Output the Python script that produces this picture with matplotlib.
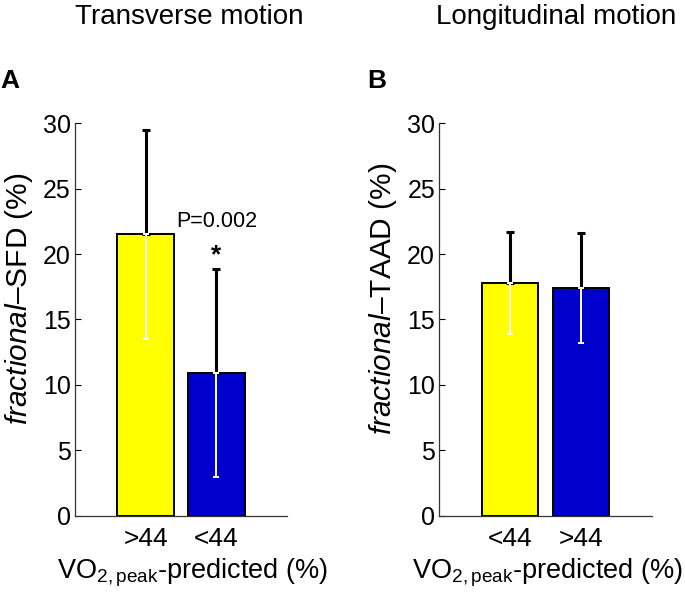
import numpy as np
import matplotlib.pyplot as plt

plt.rcParams['font.family'] = ['Liberation Sans', 'DejaVu Sans']
plt.rcParams['mathtext.fontset'] = 'custom'
plt.rcParams['mathtext.rm'] = 'Liberation Sans'
plt.rcParams['mathtext.it'] = 'Liberation Sans:italic'

# Panel A: transverse motion (fractional-SFD)
groups_a = [">44", "<44"]
mean_a = [21.5, 10.9]
sd_a = [8.0, 7.95]

# Panel B: longitudinal motion (fractional-TAAD)
groups_b = ["<44", ">44"]
mean_b = [17.8, 17.4]
sd_b = [3.9, 4.2]

bar_colors = ["#ffff00", "#0000cc"]

fig = plt.figure(figsize=(6.85, 6.02), dpi=100)
axA = fig.add_axes([0.1095, 0.1434, 0.3095, 0.6518])
axB = fig.add_axes([0.6413, 0.1434, 0.3100, 0.6518])


def draw_panel(ax, groups, means, sds, ylab, xlab_x):
    x = np.arange(1, len(groups) + 1)
    ax.bar(x, means, width=0.8, color=bar_colors, edgecolor="black", linewidth=1.4, zorder=2)
    # black upper half of the error bar, white lower half inside the bar
    ax.errorbar(x, means, yerr=[np.zeros(len(sds)), sds], fmt="none", ecolor="black",
                elinewidth=2.2, capsize=3, capthick=2.2, zorder=3)
    ax.errorbar(x, means, yerr=[sds, np.zeros(len(sds))], fmt="none", ecolor="white",
                elinewidth=1.4, capsize=2.5, capthick=1.4, zorder=3)
    ax.set_xlim(0, 3)
    ax.set_ylim(0, 30)
    ax.set_yticks([0, 5, 10, 15, 20, 25, 30])
    ax.set_xticks(x)
    ax.set_xticklabels(groups)
    ax.spines["top"].set_visible(False)
    ax.spines["right"].set_visible(False)
    for s in ("left", "bottom"):
        ax.spines[s].set_color("#333333")
        ax.spines[s].set_linewidth(0.9)
    ax.tick_params(axis="y", direction="in", length=4, labelsize=18, pad=3)
    ax.tick_params(axis="x", length=0, labelsize=19, pad=8)
    ax.set_ylabel(ylab, fontsize=21.5)
    ax.yaxis.set_label_coords(-0.19, 0.553)
    ax.set_xlabel(r"VO$_{2,\mathrm{peak}}$-predicted (%)", fontsize=19.5)
    ax.xaxis.set_label_coords(xlab_x, -0.105)


draw_panel(axA, groups_a, mean_a, sd_a, r"$\mathit{fractional}$–SFD (%)", 0.554)
draw_panel(axB, groups_b, mean_b, sd_b, r"$\mathit{fractional}$–TAAD (%)", 0.509)

axA.text(2, 22.5, "P=0.002", ha="center", va="center", fontsize=15.5)
axA.text(2, 19.9, "*", ha="center", va="center", fontsize=19, fontweight="bold")

fig.text(0.276, 0.972, "Transverse motion", ha="center", va="center", fontsize=20)
fig.text(0.812, 0.972, "Longitudinal motion", ha="center", va="center", fontsize=20)
fig.text(0.015, 0.865, "A", ha="center", va="center", fontsize=19, fontweight="bold")
fig.text(0.550, 0.865, "B", ha="center", va="center", fontsize=19, fontweight="bold")

fig.savefig("out.png", dpi=100)
